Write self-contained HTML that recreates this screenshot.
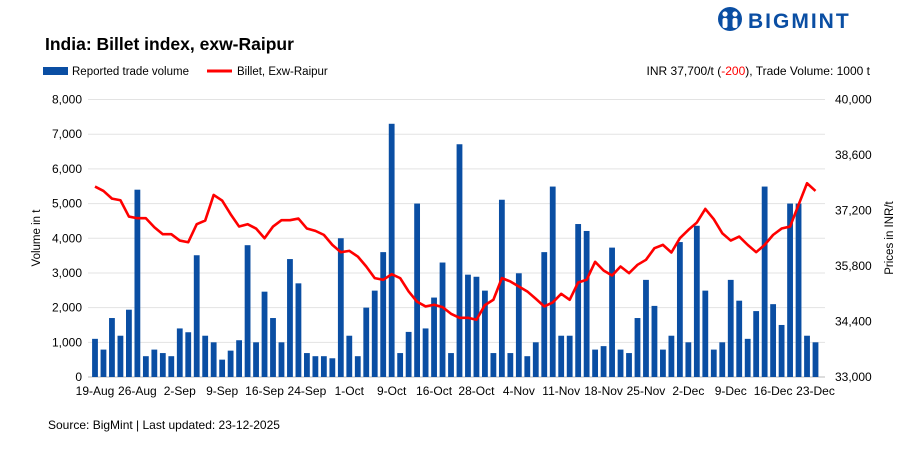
<!DOCTYPE html>
<html><head><meta charset="utf-8">
<style>
body{margin:0;background:#fff;font-family:"Liberation Sans",sans-serif;}
svg text{font-family:"Liberation Sans",sans-serif;}
</style></head>
<body>
<svg id="chart" width="907" height="444" viewBox="0 0 907 444" xmlns="http://www.w3.org/2000/svg">
<g>
<circle cx="730" cy="19" r="12" fill="#0a4ea3"/>
<circle cx="725" cy="14" r="2.6" fill="#fff"/><circle cx="735" cy="14" r="2.6" fill="#fff"/>
<rect x="722.5" y="18" width="5" height="10" rx="2" fill="#fff"/><rect x="732.5" y="18" width="5" height="10" rx="2" fill="#fff"/>
<text x="748" y="28" font-size="21" font-weight="bold" fill="#0a4ea3" letter-spacing="2">BIGMINT</text>
</g>
<text x="45" y="50" font-size="17.5" font-weight="bold" fill="#000">India: Billet index, exw-Raipur</text>
<g>
<rect x="43" y="67" width="25" height="8" fill="#0a4ea3"/>
<text x="72" y="75" font-size="11.5" fill="#000">Reported trade volume</text>
<line x1="207" y1="71" x2="232" y2="71" stroke="#f00" stroke-width="3"/>
<text x="237" y="75" font-size="11.5" fill="#000">Billet, Exw-Raipur</text>
</g>
<text x="870" y="75" font-size="12" text-anchor="end" fill="#000">INR 37,700/t (<tspan fill="#f00">-200</tspan>), Trade Volume: 1000 t</text>
<text transform="translate(40,238) rotate(-90)" font-size="11.5" text-anchor="middle">Volume in t</text>
<text transform="translate(893,238) rotate(-90)" font-size="11.5" text-anchor="middle">Prices in INR/t</text>
<text x="48" y="429" font-size="12" fill="#000">Source: BigMint | Last updated: 23-12-2025</text>
<g id="grid"></g><g id="bars"></g><g id="line"></g><g id="axes"></g>
</svg>
<script>
const volumes=[1.10,0.79,1.70,1.19,1.94,5.40,0.6,0.79,0.69,0.6,1.40,1.29,3.51,1.19,1.0,0.5,0.76,1.06,3.80,1.0,2.46,1.70,1.0,3.40,2.70,0.69,0.6,0.6,0.54,4.0,1.19,0.6,2.0,2.49,3.60,7.30,0.69,1.30,5.0,1.40,2.29,3.30,0.69,6.71,2.95,2.89,2.49,0.69,5.11,0.69,2.99,0.6,1.0,3.60,5.49,1.19,1.19,4.41,4.21,0.79,0.89,3.73,0.79,0.69,1.70,2.80,2.05,0.79,1.19,3.89,1.0,4.36,2.49,0.79,1.0,2.80,2.20,1.10,1.90,5.49,2.10,1.50,5.0,5.0,1.19,1.0].map(v=>v*1000);
const prices=[37803,37694,37500,37458,37047,37005,37005,36778,36602,36602,36442,36400,36854,36946,37593,37450,37106,36795,36854,36745,36501,36795,36955,36955,36997,36745,36686,36585,36333,36148,36182,36039,35787,35494,35452,35594,35494,35158,34898,34780,34822,34763,34595,34494,34494,34444,34814,34948,35494,35410,35284,35158,34973,34780,34881,35099,34948,35385,35452,35905,35687,35561,35787,35620,35830,35956,36249,36333,36140,36501,36711,36896,37240,36980,36627,36442,36543,36333,36148,36333,36585,36745,36795,37341,37887,37694];
const xLabels=["19-Aug","26-Aug","2-Sep","9-Sep","16-Sep","24-Sep","1-Oct","9-Oct","16-Oct","28-Oct","4-Nov","11-Nov","18-Nov","25-Nov","2-Dec","9-Dec","16-Dec","23-Dec"];
const leftTicks=[0,1000,2000,3000,4000,5000,6000,7000,8000];
const rightTicks=[33000,34400,35800,37200,38600,40000];
const NS="http://www.w3.org/2000/svg";
const x0=95,x1=815.5,yBase=377,yTop=99.5;
const xScale=i=>x0+i*(x1-x0)/(volumes.length-1);
const yL=v=>yBase-v/8000*(yBase-yTop);
const yR=v=>yBase-(v-33000)/7000*(yBase-yTop);
function mk(tag,attrs,parent){const e=document.createElementNS(NS,tag);for(const k in attrs)e.setAttribute(k,attrs[k]);document.getElementById(parent).appendChild(e);return e;}
leftTicks.forEach(t=>{
  const g=mk('line',{x1:88,x2:825,y1:yL(t),y2:yL(t),stroke:t===0?'#bbb':'#e3e3e3','stroke-width':1},'grid');
  
  
  const tx=mk('text',{x:82,y:yL(t)+4,'font-size':12,'text-anchor':'end',fill:'#000'},'axes');
  tx.textContent=t.toLocaleString('en-US');
  
  
});
rightTicks.forEach(t=>{
  const tx=mk('text',{x:835,y:yR(t)+4,'font-size':12,fill:'#000'},'axes');
  tx.textContent=t.toLocaleString('en-US');
  
  
});
volumes.forEach((v,i)=>{
  const r=mk('rect',{x:xScale(i)-2.9,y:yL(v),width:5.8,height:yBase-yL(v),fill:'#0a4ea3'},'bars');
  
  
});
const p=mk('polyline',{points:prices.map((v,i)=>xScale(i)+','+yR(v)).join(' '),fill:'none',stroke:'#f00','stroke-width':2.6,'stroke-linejoin':'round'},'line');


xLabels.forEach((l,k)=>{
  const tx=mk('text',{x:xScale(k*5),y:395,'font-size':12,'text-anchor':'middle',fill:'#000'},'axes');
  tx.textContent=l;
  
  
});
</script>
</body></html>
